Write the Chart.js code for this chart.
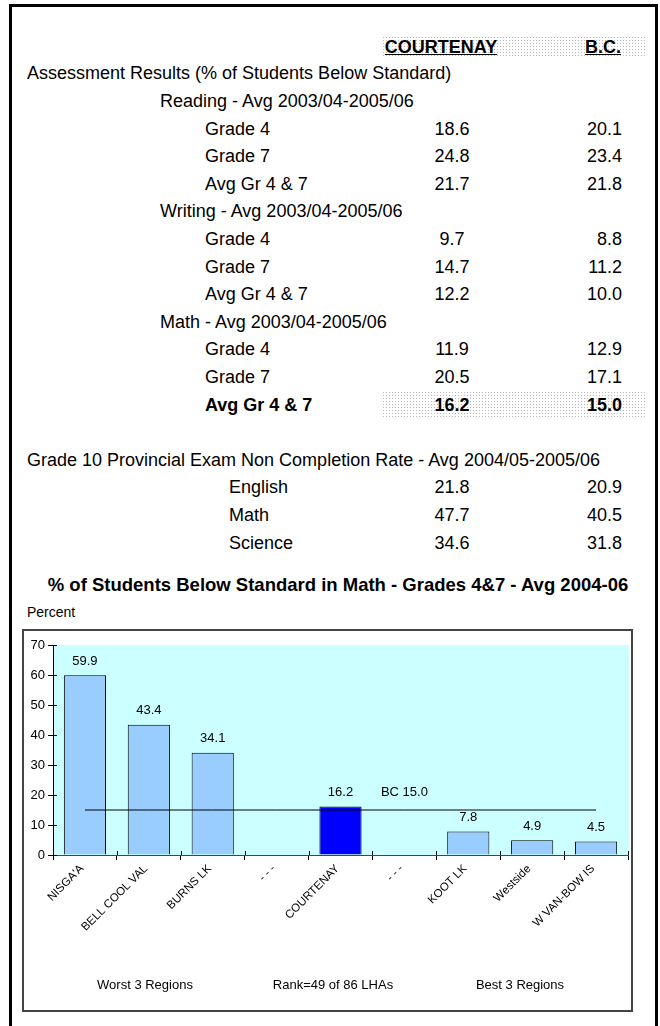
<!DOCTYPE html>
<html>
<head>
<meta charset="utf-8">
<script src="https://cdn.jsdelivr.net/npm/chart.js@4.4.1/dist/chart.umd.min.js"></script>
<style>
  body{margin:0;background:#fff;font-family:'Liberation Sans',Arial,sans-serif;width:660px;height:1026px;overflow:hidden;position:relative}
  #frame{position:absolute;left:9px;top:4px;width:649px;height:1100px;border:3px solid #000;box-sizing:border-box}
  .t{position:absolute;font-size:18px;line-height:20px;white-space:nowrap;color:#000}
  .b{font-weight:bold}
  .u{text-decoration:underline}
  .dots{position:absolute;background-image:url("data:image/svg+xml,%3Csvg xmlns='http://www.w3.org/2000/svg' width='3' height='3'%3E%3Crect width='1' height='1' fill='%23b8b8b8'/%3E%3C/svg%3E")}
  #box{position:absolute;left:22px;top:629px;width:611px;height:383px;border:2px solid #444;box-sizing:border-box}
  #myChart{display:block}
</style>
</head>
<body>
<div id="frame"></div>
<div class="dots" style="left:383px;top:37px;width:264px;height:21px"></div>
<div class="dots" style="left:383px;top:392px;width:264px;height:26px"></div>
<div id="texts"></div>
<div id="box"><canvas id="myChart" width="607" height="379"></canvas></div>

<script>
// table data
const columns = ['COURTENAY', 'B.C.']
const gradeRows = ['Grade 4', 'Grade 7', 'Avg Gr 4 & 7']
const readingCourtenay = [18.6, 24.8, 21.7]
const readingBC = [20.1, 23.4, 21.8]
const writingCourtenay = [9.7, 14.7, 12.2]
const writingBC = [8.8, 11.2, 10.0]
const mathCourtenay = [11.9, 20.5, 16.2]
const mathBC = [12.9, 17.1, 15.0]
const examSubjects = ['English', 'Math', 'Science']
const examCourtenay = [21.8, 47.7, 34.6]
const examBC = [20.9, 40.5, 31.8]

// chart data
const regions = ["NISGA'A", 'BELL COOL VAL', 'BURNS LK', '- - -', 'COURTENAY', '- - -', 'KOOT LK', 'Westside', 'W VAN-BOW IS']
const mathBelow = [59.9, 43.4, 34.1, null, 16.2, null, 7.8, 4.9, 4.5]
const bcAvg = 15.0
const homeRegion = 'COURTENAY'
const groupNotes = ['Worst 3 Regions', 'Rank=49 of 86 LHAs', 'Best 3 Regions']

const texts = document.getElementById('texts')

function put(str, x, y, align, cls, size){
    const el = document.createElement('div')
    el.className = 't ' + (cls || '')
    el.textContent = str
    if(size) el.style.fontSize = size + 'px'
    el.style.top = (y - 10) + 'px'
    if(align === 'center'){
        el.style.left = x + 'px'
        el.style.transform = 'translateX(-50%)'
    } else if(align === 'right'){
        el.style.right = (660 - x) + 'px'
    } else {
        el.style.left = x + 'px'
    }
    texts.appendChild(el)
}

const step = 27.6
const rowY = i => 101 + step * i
const colC = 452   // courtenay column centre
const colB = 622   // b.c. column right edge

put(columns[0], 441, 47, 'center', 'b u')
put(columns[1], 603, 47, 'center', 'b u')
put('Assessment Results (% of Students Below Standard)', 27, 73, 'left')

const blocks = [
    ['Reading', readingCourtenay, readingBC],
    ['Writing', writingCourtenay, writingBC],
    ['Math', mathCourtenay, mathBC]
]
let r = 0
blocks.forEach((b, bi)=>{
    put(b[0] + ' - Avg 2003/04-2005/06', 160, rowY(r++), 'left')
    gradeRows.forEach((g, gi)=>{
        //last row of math is highlighted
        const cls = (bi === 2 && gi === 2) ? 'b' : ''
        put(g, 205, rowY(r), 'left', cls)
        put(b[1][gi].toFixed(1), colC, rowY(r), 'center', cls)
        put(b[2][gi].toFixed(1), colB, rowY(r), 'right', cls)
        r++
    })
})
r++
put('Grade 10 Provincial Exam Non Completion Rate - Avg 2004/05-2005/06', 27, rowY(r++), 'left')
examSubjects.forEach((s, i)=>{
    put(s, 229, rowY(r), 'left')
    put(examCourtenay[i].toFixed(1), colC, rowY(r), 'center')
    put(examBC[i].toFixed(1), colB, rowY(r), 'right')
    r++
})

put('% of Students Below Standard in Math - Grades 4&7 - Avg 2004-06', 338, 585, 'center', 'b', 18.5)
put('Percent', 27, 612, 'left', '', 14)

// cyan plot background
const bgPlugin = {
    id: 'plotBg',
    beforeDraw(chart){
        const {ctx, chartArea: a} = chart
        ctx.save()
        ctx.fillStyle = '#CCFFFF'
        ctx.fillRect(a.left + 1, a.top, a.right - a.left, a.bottom - a.top)
        ctx.restore()
    }
}

// value labels, bc label, inner tick marks, group notes
const labelPlugin = {
    id: 'labels',
    afterDatasetsDraw(chart){
        const {ctx, chartArea: a, scales: {x, y}} = chart
        ctx.save()
        ctx.fillStyle = '#000'
        ctx.font = "13px 'Liberation Sans', Arial"
        ctx.textAlign = 'center'
        ctx.textBaseline = 'middle'
        mathBelow.forEach((v, i)=>{
            if(v === null) return
            ctx.fillText(v.toFixed(1), x.getPixelForValue(i), y.getPixelForValue(v) - 14)
        })
        ctx.fillText('BC ' + bcAvg.toFixed(1), x.getPixelForValue(5), y.getPixelForValue(bcAvg) - 18)

        ctx.strokeStyle = '#000'
        ctx.lineWidth = 1
        ctx.beginPath()
        y.ticks.forEach(t=>{
            const py = Math.round(y.getPixelForValue(t.value)) + 0.5
            ctx.moveTo(a.left, py); ctx.lineTo(a.left + 4, py)
        })
        const w = (a.right - a.left) / regions.length
        for(let i = 1; i <= regions.length; i++){
            const px = Math.round(a.left + w * i) + 0.5
            ctx.moveTo(px, a.bottom); ctx.lineTo(px, a.bottom - 4)
        }
        ctx.stroke()

        const noteX = [121, 309, 496]
        groupNotes.forEach((n, i)=> ctx.fillText(n, noteX[i], 354))
        ctx.restore()
    }
}

const ctx = document.getElementById('myChart')

new Chart(ctx, {
    type: 'bar',
    data: {
        labels: regions,
        datasets: [{
            type: 'line',
            label: 'BC',
            data: regions.map(()=> bcAvg),
            borderColor: '#000',
            borderWidth: 1,
            pointRadius: 0,
            order: 0
        },{
            type: 'bar',
            label: 'Math',
            data: mathBelow,
            backgroundColor: regions.map(n=> n === homeRegion ? '#0000FF' : '#99CCFF'),
            borderColor: '#000',
            borderWidth: 1,
            barPercentage: 0.66,
            categoryPercentage: 1,
            order: 1
        }]
    },
    options: {
        responsive: false,
        animation: false,
        layout: {padding: {left: 0, right: 3, top: 14, bottom: 0}},
        plugins: {legend: {display: false}, tooltip: {enabled: false}},
        scales: {
            x: {
                grid: {offset: true, drawOnChartArea: false, color: '#000', tickLength: 5},
                border: {color: '#444'},
                ticks: {color: '#000', font: {family: "'Liberation Sans', Arial", size: 11.5}, minRotation: 45, maxRotation: 45, autoSkip: false, padding: 2, labelOffset: -3},
                afterFit(s){ s.height = 155 }
            },
            y: {
                min: 0,
                max: 70,
                ticks: {stepSize: 10, color: '#000', font: {family: "'Liberation Sans', Arial", size: 13}, padding: 3},
                grid: {drawOnChartArea: false, color: '#000', tickLength: 5},
                border: {color: '#000'},
                afterFit(s){ s.width = 29 }
            }
        }
    },
    plugins: [bgPlugin, labelPlugin]
})
</script>
</body>
</html>
